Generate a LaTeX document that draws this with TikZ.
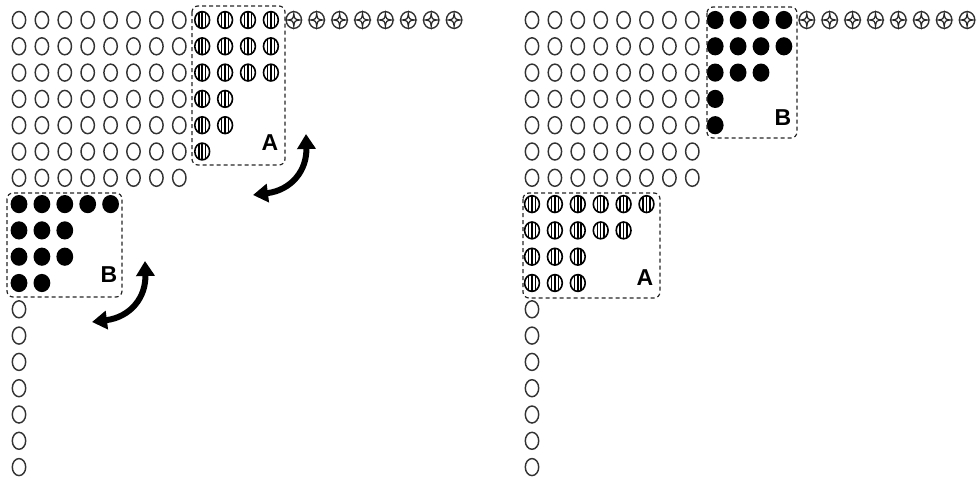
\documentclass[tikz,border=0pt]{standalone}
\usepackage{fontspec}
\newfontfamily\labfont{Liberation Sans}
\usetikzlibrary{arrows.meta}
\tikzset{
  oc/.pic={\draw[line width=1.45pt, draw=black!80] (0,0) ellipse (6.7 and 8.5);},
  sc/.pic={\begin{scope}\clip (0,0) ellipse (7.4 and 8.4);
      \draw[line width=1.5pt] (-3.4,-9)--(-3.4,9) (0,-9)--(0,9) (3.4,-9)--(3.4,9);\end{scope}
      \draw[line width=1.6pt] (0,0) ellipse (7.4 and 8.4);},
  fc/.pic={\fill (0,0) ellipse (8.4 and 9.1);},
  xc/.pic={\draw[line width=1.4pt, draw=black!80] (0,0) ellipse (7.7 and 8.4);
      \draw[line width=1.2pt, draw=black!85] (0,-6.4) .. controls (0.8,-0.8) .. (6,0) .. controls (0.8,0.8) .. (0,6.4)
        .. controls (-0.8,0.8) .. (-6,0) .. controls (-0.8,-0.8) .. cycle;},
  dashbox/.style={draw=black!85, line width=1.2pt, dash pattern=on 4pt off 3pt, rounded corners=6pt},
  lab/.style={font=\labfont\bfseries\fontsize{23}{23}\selectfont, inner sep=0pt},
  bigarrow/.style={line width=6pt, {Triangle[length=15pt,width=18pt]}-{Triangle[length=15pt,width=18pt]}},
}
\begin{document}
\begin{tikzpicture}[x=1pt,y=-1pt]
\useasboundingbox (0,0) rectangle (980,479);
% ---------- left panel ----------
\foreach \r in {0,...,6} \foreach \c in {0,...,7}
  \pic at ({19+22.9*\c},{20+26.3*\r}) {oc};
\foreach \r/\n in {0/11,1/11,2/11,3/9,4/9,5/8} \foreach \c in {8,...,\n}
  \pic at ({19+22.9*\c},{20+26.3*\r}) {sc};
\foreach \c in {12,...,19}
  \pic at ({19+22.9*\c},20) {xc};
\foreach \r/\n in {7/4,8/2,9/2,10/1} \foreach \c in {0,...,\n}
  \pic at ({19+22.9*\c},{20+26.3*\r}) {fc};
\foreach \r in {11,...,17}
  \pic at (19,{20+26.3*\r}) {oc};
\draw[dashbox] (192,6) rectangle (285,165);
\node[lab] (lA) at (270,143) {A};
\draw[dashbox] (7,193) rectangle (122,297);
\node[lab] (lB) at (109,275) {B};
\coordinate (a1s) at (253,195);
\coordinate (a1e) at (306,134);
\draw[bigarrow] (a1s) .. controls (292,190) and (307,170) .. (a1e);
\coordinate (a2s) at (92,322);
\coordinate (a2e) at (145,261);
\draw[bigarrow] (a2s) .. controls (131,317) and (146,297) .. (a2e);
% ---------- right panel ----------
\foreach \r in {0,...,6} \foreach \c in {0,...,7}
  \pic at ({532+22.9*\c},{20+26.3*\r}) {oc};
\foreach \r/\n in {0/11,1/11,2/10,3/8,4/8} \foreach \c in {8,...,\n}
  \pic at ({532+22.9*\c},{20+26.3*\r}) {fc};
\foreach \c in {12,...,19}
  \pic at ({532+22.9*\c},20) {xc};
\foreach \r/\n in {7/5,8/4,9/2,10/2} \foreach \c in {0,...,\n}
  \pic at ({532+22.9*\c},{20+26.3*\r}) {sc};
\foreach \r in {11,...,17}
  \pic at (532,{20+26.3*\r}) {oc};
\draw[dashbox] (707,7) rectangle (797,138);
\node[lab] (rB) at (783,118) {B};
\draw[dashbox] (523,193) rectangle (660,298);
\node[lab] (rA) at (645,278) {A};
\end{tikzpicture}
\end{document}
